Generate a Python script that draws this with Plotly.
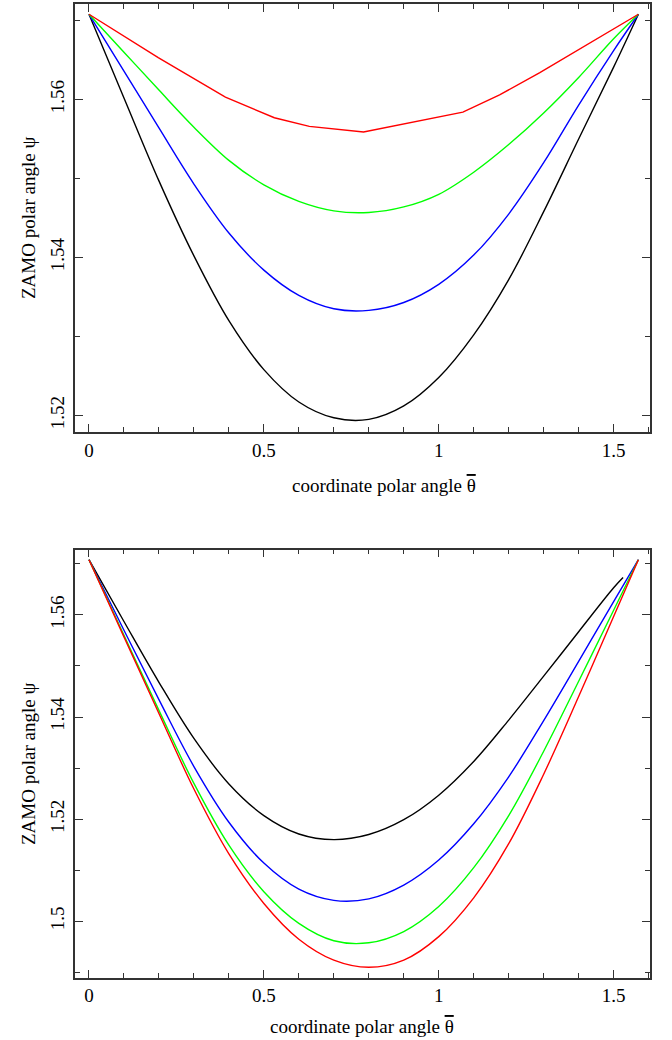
import plotly.graph_objects as go

# ---------------- data ----------------
theta_grid = [0, 0.1, 0.2, 0.3, 0.4, 0.5, 0.6, 0.7, 0.8, 0.9, 1.0, 1.1, 1.2, 1.3, 1.4, 1.5, 1.5708]

# top panel
top_black_y = [1.5708, 1.5602, 1.5497, 1.5402, 1.5320, 1.5258, 1.5217, 1.5197, 1.5195, 1.5212, 1.5248,
               1.5302, 1.5372, 1.5458, 1.5550, 1.5641, 1.5708]
top_blue_y = [1.5708, 1.5636, 1.5564, 1.5493, 1.5431, 1.5384, 1.5352, 1.5335, 1.5333, 1.5343, 1.5366,
              1.5403, 1.5455, 1.5520, 1.5593, 1.5662, 1.5708]
top_green_y = [1.5708, 1.5660, 1.5612, 1.5565, 1.5523, 1.5492, 1.5471, 1.5459, 1.5457, 1.5464, 1.5480,
               1.5508, 1.5543, 1.5583, 1.5628, 1.5677, 1.5708]
top_red_x = [0, 0.198, 0.39, 0.53, 0.63, 0.785, 1.069, 1.174, 1.289, 1.365, 1.46, 1.5708]
top_red_y = [1.5708, 1.5653, 1.5603, 1.5577, 1.5566, 1.5559, 1.5584, 1.5606, 1.5634, 1.5654, 1.5679, 1.5708]

# bottom panel
bot_black_x = [0, 0.1, 0.2, 0.3, 0.4, 0.5, 0.6, 0.7, 0.8, 0.9, 1.0, 1.1, 1.2, 1.3, 1.4, 1.5, 1.527]
bot_black_y = [1.5708, 1.5587, 1.5468, 1.5358, 1.5269, 1.5207, 1.5171, 1.5160, 1.5170, 1.5199, 1.5247,
               1.5313, 1.5394, 1.5480, 1.5567, 1.5653, 1.5673]
bot_blue_y = [1.5708, 1.5570, 1.5434, 1.5303, 1.5194, 1.5114, 1.5063, 1.5041, 1.5044, 1.5071, 1.5120,
              1.5191, 1.5283, 1.5393, 1.5509, 1.5626, 1.5708]
bot_green_y = [1.5708, 1.5560, 1.5413, 1.5270, 1.5149, 1.5058, 1.4996, 1.4962, 1.4958, 1.4980, 1.5029,
               1.5105, 1.5207, 1.5333, 1.5470, 1.5609, 1.5708]
bot_red_y = [1.5708, 1.5557, 1.5407, 1.5259, 1.5132, 1.5035, 1.4965, 1.4924, 1.4910, 1.4924, 1.4970,
             1.5046, 1.5152, 1.5288, 1.5440, 1.5597, 1.5708]

x_ticks = [0, 0.5, 1, 1.5]
x_ticktext = ["0", "0.5", "1", "1.5"]
top_y_ticks = [1.52, 1.54, 1.56]
top_y_ticktext = ["1.52", "1.54", "1.56"]
bot_y_ticks = [1.50, 1.52, 1.54, 1.56]
bot_y_ticktext = ["1.5", "1.52", "1.54", "1.56"]

x_title = "coordinate polar angle <span style='text-decoration:overline'>θ</span>"
y_title = "ZAMO polar angle ψ"

# ---------------- figure ----------------
W, H = 672, 1040
FONT = "Liberation Serif, Times New Roman, DejaVu Serif, serif"
fig = go.Figure()

def add(x, y, color, xa, ya, shape="spline"):
    line = dict(color=color, width=1.4, shape=shape)
    if shape == "spline":
        line["smoothing"] = 1.0
    fig.add_trace(go.Scatter(x=x, y=y, mode="lines", xaxis=xa, yaxis=ya, line=line,
                             showlegend=False, hoverinfo="skip"))

add(theta_grid, top_black_y, "#000000", "x", "y")
add(theta_grid, top_blue_y, "#0000ff", "x", "y")
add(theta_grid, top_green_y, "#00ff00", "x", "y")
add(top_red_x, top_red_y, "#ff0000", "x", "y", shape="linear")

add(bot_black_x, bot_black_y, "#000000", "x2", "y2")
add(theta_grid, bot_blue_y, "#0000ff", "x2", "y2")
add(theta_grid, bot_green_y, "#00ff00", "x2", "y2")
add(theta_grid, bot_red_y, "#ff0000", "x2", "y2")

xl, xr = 75 / W, 650 / W
top_dom = [1 - 432 / H, 1 - 4 / H]
bot_dom = [1 - 977.5 / H, 1 - 549.5 / H]

TICKC = "#333333"
axcommon = dict(showgrid=False, zeroline=False, showline=True, linecolor=TICKC, linewidth=1.5,
                mirror="allticks", ticks="inside", ticklen=8, tickwidth=1.2, tickcolor=TICKC,
                tickfont=dict(family=FONT, size=19, color="black"), automargin=False)

xcommon = dict(axcommon, range=[-0.04, 1.604], tickvals=x_ticks, ticktext=x_ticktext,
               minor=dict(dtick=0.1, tick0=0, ticks="inside", ticklen=5, tickwidth=1.2, tickcolor=TICKC),
               domain=[xl, xr], ticklabelstandoff=0)

fig.update_layout(
    width=W, height=H, margin=dict(l=0, r=0, t=0, b=0),
    paper_bgcolor="white", plot_bgcolor="white",
    xaxis=dict(xcommon, anchor="y"),
    yaxis=dict(axcommon, domain=top_dom, anchor="x", range=[1.5179, 1.5721],
               tickvals=top_y_ticks, ticktext=top_y_ticktext, tickangle=-90,
               minor=dict(tickvals=[1.53, 1.55, 1.57], ticks="inside", ticklen=5, tickwidth=1.2, tickcolor=TICKC),
               ticklabelstandoff=2),
    xaxis2=dict(xcommon, anchor="y2"),
    yaxis2=dict(axcommon, domain=bot_dom, anchor="x2", range=[1.4890, 1.5728],
                tickvals=bot_y_ticks, ticktext=bot_y_ticktext, tickangle=-90,
                minor=dict(tickvals=[1.49, 1.51, 1.53, 1.55, 1.57], ticks="inside", ticklen=5, tickwidth=1.2,
                           tickcolor=TICKC),
                ticklabelstandoff=2),
)

annfont = dict(family=FONT, size=19, color="black")
fig.add_annotation(x=384 / W, y=1 - 485 / H, xref="paper", yref="paper", text=x_title, showarrow=False,
                   font=annfont, xanchor="center", yanchor="middle")
fig.add_annotation(x=362 / W, y=1 - 1026 / H, xref="paper", yref="paper", text=x_title, showarrow=False,
                   font=annfont, xanchor="center", yanchor="middle")
fig.add_annotation(x=28 / W, y=1 - 218 / H, xref="paper", yref="paper", text=y_title, showarrow=False,
                   font=annfont, textangle=-90, xanchor="center", yanchor="middle")
fig.add_annotation(x=28 / W, y=1 - 764 / H, xref="paper", yref="paper", text=y_title, showarrow=False,
                   font=annfont, textangle=-90, xanchor="center", yanchor="middle")

fig.write_html("out.html")
